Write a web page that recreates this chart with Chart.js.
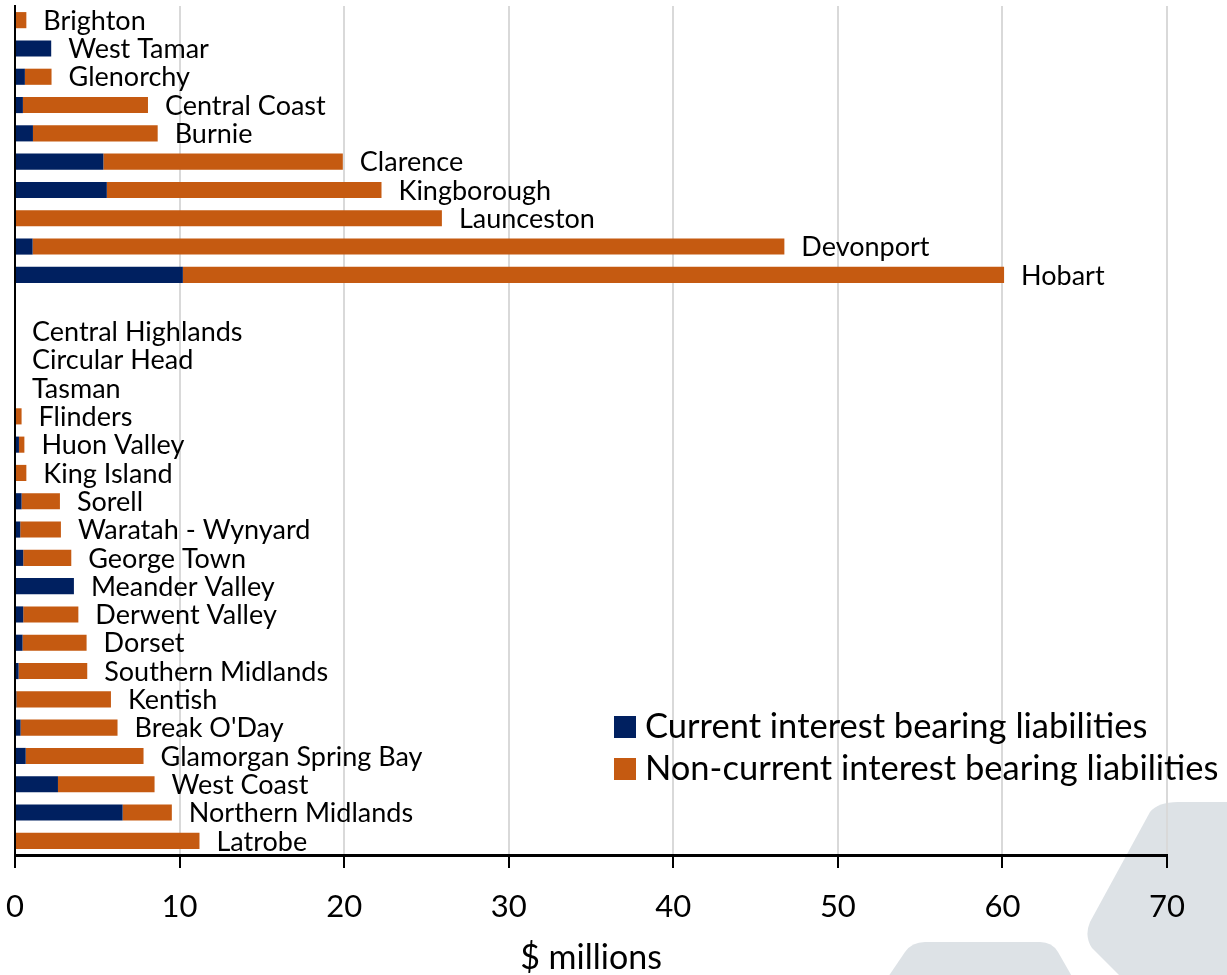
<!DOCTYPE html>
<html>
<head>
<meta charset="utf-8">
<title>Interest bearing liabilities</title>
<script src="https://cdn.jsdelivr.net/npm/chart.js@4"></script>
<style>
  html, body { margin: 0; padding: 0; background: #fff; }
  canvas { display: block; }
</style>
</head>
<body>
<canvas id="liabChart" width="1227" height="975"></canvas>
<script>
// councils, top to bottom (blank entry separates the two groups)
const councils = [
  "Brighton", "West Tamar", "Glenorchy", "Central Coast", "Burnie",
  "Clarence", "Kingborough", "Launceston", "Devonport", "Hobart",
  "",
  "Central Highlands", "Circular Head", "Tasman", "Flinders", "Huon Valley",
  "King Island", "Sorell", "Waratah - Wynyard", "George Town", "Meander Valley",
  "Derwent Valley", "Dorset", "Southern Midlands", "Kentish", "Break O'Day",
  "Glamorgan Spring Bay", "West Coast", "Northern Midlands", "Latrobe"
];

// $ millions
const currentIBL = [
  0, 2.2, 0.6, 0.48, 1.09,
  5.37, 5.58, 0, 1.07, 10.2,
  null,
  0, 0, 0, 0, 0.24,
  0, 0.4, 0.32, 0.5, 3.58,
  0.5, 0.46, 0.22, 0.08, 0.34,
  0.65, 2.61, 6.54, 0
];
const nonCurrentIBL = [
  0.69, 0, 1.62, 7.6, 7.58,
  14.55, 16.69, 25.94, 45.68, 49.9,
  null,
  0, 0, 0, 0.4, 0.33,
  0.69, 2.33, 2.47, 2.92, 0,
  3.35, 3.89, 4.17, 5.75, 5.89,
  7.16, 5.87, 2.99, 11.21
];

const xTicks = [0, 10, 20, 30, 40, 50, 60, 70];

const NAVY = "#002060";
const ORANGE = "#c55a11";
const FONT = "Lato";

Chart.defaults.font.family = FONT;
Chart.defaults.color = "#000";

// pale logo shapes behind the plot
const backdrop = {
  id: "backdrop",
  beforeDraw(chart) {
    const c = chart.ctx;
    c.save();
    c.fillStyle = "#dde2e6";
    c.beginPath();
    c.moveTo(1178, 802);
    c.lineTo(1240, 802);
    c.lineTo(1240, 980);
    c.lineTo(1124, 980);
    c.lineTo(1092, 948);
    c.quadraticCurveTo(1084, 936, 1090, 922);
    c.lineTo(1150, 812);
    c.quadraticCurveTo(1158, 802, 1178, 802);
    c.closePath();
    c.fill();
    c.beginPath();
    c.moveTo(925, 942);
    c.lineTo(1040, 942);
    c.quadraticCurveTo(1052, 942, 1058, 952);
    c.lineTo(1074, 980);
    c.lineTo(886, 980);
    c.lineTo(905, 952);
    c.quadraticCurveTo(912, 942, 925, 942);
    c.closePath();
    c.fill();
    c.restore();
  }
};

// council name just past the end of each bar
const endLabels = {
  id: "endLabels",
  afterDatasetsDraw(chart) {
    const c = chart.ctx;
    const xs = chart.scales.x, ys = chart.scales.y;
    c.save();
    c.font = "27px " + FONT;
    c.fillStyle = "#000";
    c.textBaseline = "middle";
    c.textAlign = "left";
    councils.forEach((name, i) => {
      if (!name) return;
      const total = (currentIBL[i] || 0) + (nonCurrentIBL[i] || 0);
      c.fillText(name, xs.getPixelForValue(total) + 17, ys.getPixelForValue(i) + 1);
    });
    c.restore();
  }
};

// legend box in the lower right of the plot
const boxLegend = {
  id: "boxLegend",
  afterDraw(chart) {
    const c = chart.ctx;
    c.save();
    c.font = "34.5px " + FONT;
    c.textBaseline = "middle";
    chart.data.datasets.forEach((ds, i) => {
      const y = 727 + i * 42;
      c.fillStyle = ds.backgroundColor;
      c.fillRect(614, y - 11, 22, 22);
      c.fillStyle = "#000";
      c.fillText(ds.label, 645, y);
    });
    c.restore();
  }
};

new Chart(document.getElementById("liabChart"), {
  type: "bar",
  data: {
    labels: councils,
    datasets: [
      { label: "Current interest bearing liabilities", data: currentIBL, backgroundColor: NAVY },
      { label: "Non-current interest bearing liabilities", data: nonCurrentIBL, backgroundColor: ORANGE }
    ]
  },
  options: {
    indexAxis: "y",
    responsive: false,
    animation: false,
    devicePixelRatio: 1,
    layout: { padding: { left: 15, right: 60, top: 6, bottom: 0 } },
    datasets: { bar: { categoryPercentage: 1, barPercentage: 0.57, borderWidth: 0 } },
    plugins: {
      legend: { display: false },
      tooltip: { enabled: false }
    },
    scales: {
      x: {
        stacked: true,
        min: 0,
        max: 70,
        afterBuildTicks(scale) { scale.ticks = xTicks.map(v => ({ value: v })); },
        afterFit(scale) {
          scale.height = 120;
          scale.paddingLeft = 0;
          scale.paddingRight = 0;
        },
        grid: { color: "#d9d9d9", lineWidth: 2, tickColor: "#000", tickLength: 13, tickWidth: 2 },
        border: { color: "#000", width: 3 },
        ticks: { font: { size: 31 }, padding: 20, color: "#000", maxRotation: 0 },
        title: { display: true, text: "$ millions", font: { size: 34, lineHeight: 1 }, padding: { top: 0, bottom: 0 }, color: "#000" }
      },
      y: {
        stacked: true,
        grid: { display: false, drawTicks: false },
        border: { color: "#000", width: 2 },
        ticks: { display: false },
        afterFit(scale) { scale.width = 0; }
      }
    }
  },
  plugins: [backdrop, endLabels, boxLegend]
});
</script>
</body>
</html>
